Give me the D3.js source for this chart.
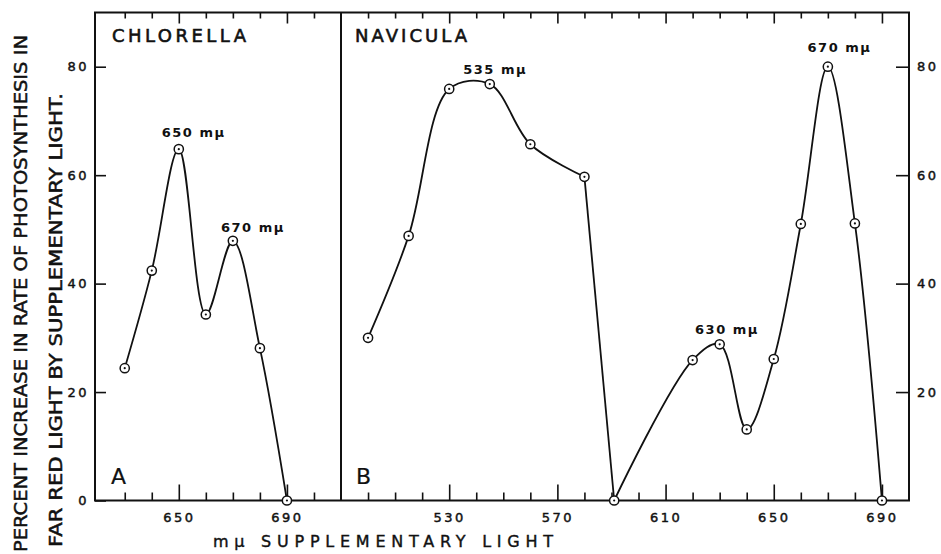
<!DOCTYPE html>
<html>
<head>
<meta charset="utf-8">
<script src="https://cdn.jsdelivr.net/npm/d3@7/dist/d3.min.js"></script>
<style>
  html, body { margin: 0; padding: 0; background: #fff; }
  svg { display: block; }
  text { font-family: "DejaVu Sans", "Liberation Sans", sans-serif; fill: #111; }
</style>
</head>
<body>
<svg id="chart" width="941" height="554"></svg>
<script>
// ---- data ----
const chlorellaWavelength = [630, 640, 650, 660, 670, 680, 690];
const chlorellaIncrease   = [24.4, 42.4, 64.8, 34.3, 47.9, 28.1, 0];
const chlorellaPenBreaks  = [];

const naviculaWavelength = [500, 515, 530, 545, 560, 580, 591, 620, 630, 640, 650, 660, 670, 680, 690];
const naviculaIncrease   = [30.0, 48.8, 75.9, 76.8, 65.7, 59.7, 0, 25.9, 28.8, 13.1, 26.1, 51.0, 80.0, 51.1, 0];
const naviculaPenBreaks  = [580, 591];

const yTicks = [0, 20, 40, 60, 80];
const yTicksRight = [20, 40, 60, 80];
const chlorellaMinorTicks = [630, 640, 660, 670, 680, 700];
const chlorellaMajorTicks = [650, 690];
const naviculaMinorTicks = [500, 510, 520, 540, 550, 560, 580, 590, 600, 620, 630, 640, 660, 670, 680];
const naviculaMajorTicks = [530, 570, 610, 650, 690];

const chlorellaPeaks = [ {label: "650 mμ", wl: 643.7, v: 67.0}, {label: "670 mμ", wl: 665.6, v: 49.5} ];
const naviculaPeaks  = [ {label: "535 mμ", wl: 535.2, v: 78.7}, {label: "670 mμ", wl: 662.5, v: 82.8}, {label: "630 mμ", wl: 620.9, v: 30.7} ];

// ---- layout ----
const svg = d3.select("#chart");
const ink = "#111";
const plotTop = 12.5, plotBottom = 500.5;
const plotLeft = 95, plotMid = 341, plotRight = 909;

const y = d3.scaleLinear().domain([0, 90]).range([plotBottom, plotTop]);
const xA = d3.scaleLinear().domain([619, 710]).range([plotLeft, plotMid]);
const xB = d3.scaleLinear().domain([490, 700]).range([plotMid, plotRight]);

// frame
svg.append("rect").attr("x", plotLeft).attr("y", plotTop).attr("width", plotRight - plotLeft).attr("height", plotBottom - plotTop)
  .attr("fill", "none").attr("stroke", ink).attr("stroke-width", 2);
svg.append("line").attr("x1", plotMid).attr("x2", plotMid).attr("y1", plotTop).attr("y2", plotBottom)
  .attr("stroke", ink).attr("stroke-width", 2);

function styleAxis(g) {
  g.select(".domain").remove();
  g.selectAll("line").attr("stroke", ink).attr("stroke-width", 1.6);
  g.selectAll("text").attr("font-size", 13).attr("letter-spacing", "2.5px").attr("fill", ink)
    .attr("stroke", ink).attr("stroke-width", 0.45)
    .style("font-family", "'DejaVu Sans', sans-serif");
}

function xAxes(x, minor, major) {
  svg.append("g").attr("transform", `translate(0,${plotBottom})`)
    .call(d3.axisBottom(x).tickValues(minor).tickSizeInner(-8).tickSizeOuter(0).tickFormat(""))
    .call(styleAxis);
  svg.append("g").attr("transform", `translate(0,${plotBottom})`)
    .call(d3.axisBottom(x).tickValues(major).tickSizeInner(-16).tickSizeOuter(0).tickPadding(12).tickFormat(d3.format("d")))
    .call(styleAxis);
  svg.append("g").attr("transform", `translate(0,${plotTop})`)
    .call(d3.axisTop(x).tickValues(minor).tickSizeInner(-6).tickSizeOuter(0).tickFormat(""))
    .call(styleAxis);
  svg.append("g").attr("transform", `translate(0,${plotTop})`)
    .call(d3.axisTop(x).tickValues(major).tickSizeInner(-11).tickSizeOuter(0).tickFormat(""))
    .call(styleAxis);
}
xAxes(xA, chlorellaMinorTicks, chlorellaMajorTicks);
xAxes(xB, naviculaMinorTicks, naviculaMajorTicks);

svg.append("g").attr("transform", `translate(${plotLeft},0)`)
  .call(d3.axisLeft(y).tickValues(yTicks).tickSizeInner(-11).tickSizeOuter(0).tickPadding(6))
  .call(styleAxis);
svg.append("g").attr("transform", `translate(${plotRight},0)`)
  .call(d3.axisRight(y).tickValues(yTicksRight).tickSizeInner(-13).tickSizeOuter(0).tickPadding(8))
  .call(styleAxis);

// curves: hand-drawn pen strokes restart at the break wavelengths
function drawSeries(x, wls, vals, breaks) {
  const pts = wls.map((w, i) => [w, vals[i]]);
  const segs = [];
  let cur = [];
  pts.forEach((p, i) => {
    cur.push(p);
    if (breaks.includes(p[0]) && i > 0 && i < pts.length - 1) { segs.push(cur); cur = [p]; }
  });
  segs.push(cur);
  const line = d3.line().x(d => x(d[0])).y(d => y(d[1])).curve(d3.curveCatmullRom.alpha(0.5));
  segs.forEach(s => {
    svg.append("path").attr("d", line(s)).attr("fill", "none").attr("stroke", ink)
      .attr("stroke-width", 1.8).attr("stroke-linejoin", "round");
  });
  const g = svg.append("g");
  g.selectAll("circle.m").data(pts).join("circle").attr("class", "m")
    .attr("cx", d => x(d[0])).attr("cy", d => y(d[1])).attr("r", 4.6)
    .attr("fill", "#fff").attr("stroke", ink).attr("stroke-width", 1.5);
  g.selectAll("circle.c").data(pts).join("circle").attr("class", "c")
    .attr("cx", d => x(d[0])).attr("cy", d => y(d[1])).attr("r", 1.1).attr("fill", ink);
}
drawSeries(xA, chlorellaWavelength, chlorellaIncrease, chlorellaPenBreaks);
drawSeries(xB, naviculaWavelength, naviculaIncrease, naviculaPenBreaks);

// peak labels
function peakLabels(x, peaks) {
  svg.append("g").selectAll("text").data(peaks).join("text")
    .attr("x", d => x(d.wl)).attr("y", d => y(d.v))
    .attr("font-size", 13).attr("font-weight", "bold").attr("letter-spacing", "1.5px")
    .text(d => d.label);
}
peakLabels(xA, chlorellaPeaks);
peakLabels(xB, naviculaPeaks);

// panel titles
svg.append("text").attr("x", 112).attr("y", 42).attr("font-size", 18).attr("textLength", 134)
  .attr("lengthAdjust", "spacing").attr("stroke", ink).attr("stroke-width", 0.6).text("CHLORELLA");
svg.append("text").attr("x", 355).attr("y", 42).attr("font-size", 18).attr("textLength", 112)
  .attr("lengthAdjust", "spacing").attr("stroke", ink).attr("stroke-width", 0.6).text("NAVICULA");
svg.append("text").attr("x", 111).attr("y", 484).attr("font-size", 22).attr("stroke", ink).attr("stroke-width", 0.2).text("A");
svg.append("text").attr("x", 356).attr("y", 484).attr("font-size", 22).attr("stroke", ink).attr("stroke-width", 0.2).text("B");

// axis titles
svg.append("text").attr("x", 213).attr("y", 547).attr("font-size", 16).attr("textLength", 340)
  .attr("lengthAdjust", "spacing").attr("stroke", ink).attr("stroke-width", 0.4).text("mμ SUPPLEMENTARY LIGHT");
svg.append("text").attr("transform", "translate(27,552) rotate(-90)").attr("font-size", 17)
  .attr("stroke", ink).attr("stroke-width", 0.5)
  .attr("textLength", 517).attr("lengthAdjust", "spacingAndGlyphs")
  .text("PERCENT INCREASE IN RATE OF PHOTOSYNTHESIS IN");
svg.append("text").attr("transform", "translate(62,547) rotate(-90)").attr("font-size", 17)
  .attr("stroke", ink).attr("stroke-width", 0.5)
  .attr("textLength", 454).attr("lengthAdjust", "spacingAndGlyphs")
  .text("FAR RED LIGHT BY SUPPLEMENTARY LIGHT.");
</script>
</body>
</html>
